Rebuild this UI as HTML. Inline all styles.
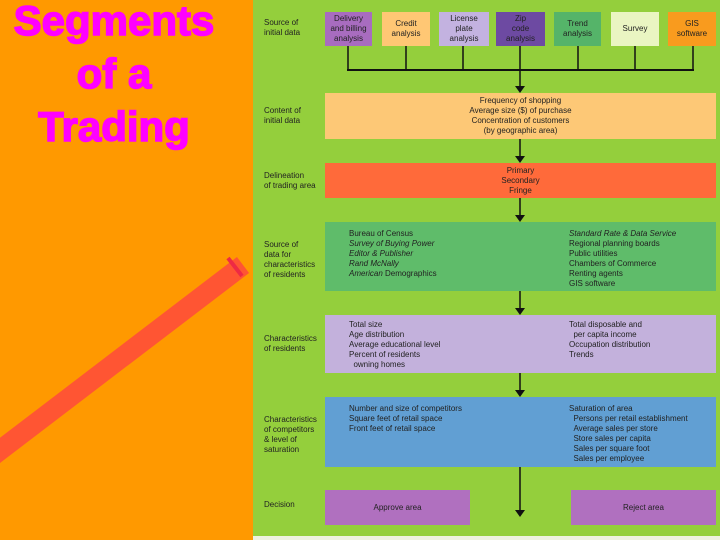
<!DOCTYPE html>
<html><head><style>
body{margin:0;width:720px;height:540px;overflow:hidden;background:#ff9900;position:relative;font-family:"Liberation Sans",sans-serif}
.t{position:absolute;color:#ff00ff;font-weight:900;font-size:42px;text-align:center;width:252px;left:-12px;line-height:53px;letter-spacing:0px;-webkit-text-stroke:1.5px #ff00ff}
#p{position:absolute;left:253px;top:0;width:467px;height:536px;background:#94cf3c}
#b{position:absolute;left:253px;top:536px;width:467px;height:4px;background:#eef2e0}
.x{position:absolute;font-size:8px;line-height:10px;color:#222}
.bx{position:absolute;font-size:8px;line-height:10px;color:#222;display:flex;align-items:center;justify-content:center;text-align:center}
.l{position:absolute;font-size:8px;line-height:10px;color:#222;left:264px}
i{font-style:italic}
</style></head><body>
<svg style="position:absolute;left:0;top:0" width="253" height="540"><line x1="-10" y1="458" x2="243" y2="265" stroke="#ff5533" stroke-width="20"/><line x1="228" y1="258" x2="242" y2="276" stroke="#ee2a44" stroke-width="4"/></svg>
<div class="t" style="top:-6px">Segments<br>of a<br>Trading</div>
<div id="p"></div><div id="b"></div>
<svg style="position:absolute;left:0;top:0" width="720" height="540">
<g stroke="#111" stroke-width="1.5" fill="none">
<line x1="348" y1="46" x2="348" y2="70"/><line x1="406" y1="46" x2="406" y2="70"/><line x1="463" y1="46" x2="463" y2="70"/><line x1="520" y1="46" x2="520" y2="70"/><line x1="578" y1="46" x2="578" y2="70"/><line x1="635" y1="46" x2="635" y2="70"/><line x1="693" y1="46" x2="693" y2="70"/>
<line x1="347" y1="70" x2="694" y2="70" stroke-width="2"/>
<line x1="520" y1="70" x2="520" y2="88"/><line x1="520" y1="139" x2="520" y2="158"/><line x1="520" y1="198" x2="520" y2="217"/><line x1="520" y1="291" x2="520" y2="310"/><line x1="520" y1="373" x2="520" y2="392"/><line x1="520" y1="467" x2="520" y2="512"/>
</g>
<g fill="#111"><path d="M515,86h10l-5,7z"/><path d="M515,156h10l-5,7z"/><path d="M515,215h10l-5,7z"/><path d="M515,308h10l-5,7z"/><path d="M515,390h10l-5,7z"/><path d="M515,510h10l-5,7z"/></g>
</svg>
<div class="bx" style="left:325px;top:12px;width:47px;height:34px;background:#a86cbf">Delivery<br>and billing<br>analysis</div>
<div class="bx" style="left:382px;top:12px;width:48px;height:34px;background:#ffc774">Credit<br>analysis</div>
<div class="bx" style="left:439px;top:12px;width:50px;height:34px;background:#c3b2e0">License<br>plate<br>analysis</div>
<div class="bx" style="left:496px;top:12px;width:49px;height:34px;background:#6d4aa2">Zip<br>code<br>analysis</div>
<div class="bx" style="left:554px;top:12px;width:47px;height:34px;background:#55b469">Trend<br>analysis</div>
<div class="bx" style="left:611px;top:12px;width:48px;height:34px;background:#eaf5c2">Survey</div>
<div class="bx" style="left:668px;top:12px;width:48px;height:34px;background:#f99b1e">GIS<br>software</div>
<div class="bx" style="left:325px;top:93px;width:391px;height:46px;background:#fdc876">Frequency of shopping<br>Average size ($) of purchase<br>Concentration of customers<br>(by geographic area)</div>
<div class="bx" style="left:325px;top:163px;width:391px;height:35px;background:#ff6a3a">Primary<br>Secondary<br>Fringe</div>
<div style="position:absolute;left:325px;top:222px;width:391px;height:69px;background:#5fbc6a"></div>
<div style="position:absolute;left:325px;top:315px;width:391px;height:58px;background:#c3b1dc"></div>
<div style="position:absolute;left:325px;top:397px;width:391px;height:70px;background:#619fd3"></div>
<div class="bx" style="left:325px;top:490px;width:145px;height:35px;background:#b070bf">Approve area</div>
<div class="bx" style="left:571px;top:490px;width:145px;height:35px;background:#b070bf">Reject area</div>
<div class="x" style="left:349px;top:229px">Bureau of Census<br><i>Survey of Buying Power</i><br><i>Editor &amp; Publisher</i><br><i>Rand McNally</i><br><i>American</i> Demographics</div>
<div class="x" style="left:569px;top:229px"><i>Standard Rate &amp; Data Service</i><br>Regional planning boards<br>Public utilities<br>Chambers of Commerce<br>Renting agents<br>GIS software</div>
<div class="x" style="left:349px;top:320px">Total size<br>Age distribution<br>Average educational level<br>Percent of residents<br>&nbsp;&nbsp;owning homes</div>
<div class="x" style="left:569px;top:320px">Total disposable and<br>&nbsp;&nbsp;per capita income<br>Occupation distribution<br>Trends</div>
<div class="x" style="left:349px;top:404px">Number and size of competitors<br>Square feet of retail space<br>Front feet of retail space</div>
<div class="x" style="left:569px;top:404px">Saturation of area<br>&nbsp;&nbsp;Persons per retail establishment<br>&nbsp;&nbsp;Average sales per store<br>&nbsp;&nbsp;Store sales per capita<br>&nbsp;&nbsp;Sales per square foot<br>&nbsp;&nbsp;Sales per employee</div>
<div class="l" style="top:18px">Source of<br>initial data</div>
<div class="l" style="top:106px">Content of<br>initial data</div>
<div class="l" style="top:171px">Delineation<br>of trading area</div>
<div class="l" style="top:240px">Source of<br>data for<br>characteristics<br>of residents</div>
<div class="l" style="top:334px">Characteristics<br>of residents</div>
<div class="l" style="top:415px">Characteristics<br>of competitors<br>&amp; level of<br>saturation</div>
<div class="l" style="top:500px">Decision</div>
</body></html>
